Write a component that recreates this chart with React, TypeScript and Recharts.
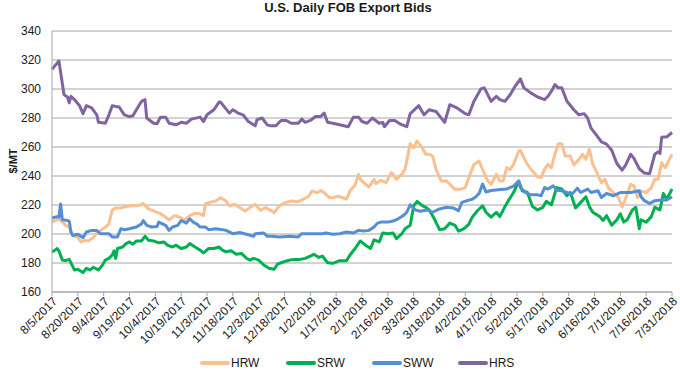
import { CartesianGrid, Line, LineChart, XAxis, YAxis } from 'recharts';

const FONT = '"Liberation Sans", Arial, sans-serif';
const GRID = '#a6a6a6';
const TEXT = '#1a1a1a';

const START = Date.UTC(2017, 7, 5);
const DAY = 86400000;

const TICK_LABELS = [
  '8/5/2017', '8/20/2017', '9/4/2017', '9/19/2017', '10/4/2017', '10/19/2017', '11/3/2017',
  '11/18/2017', '12/3/2017', '12/18/2017', '1/2/2018', '1/17/2018', '2/1/2018', '2/16/2018',
  '3/3/2018', '3/18/2018', '4/2/2018', '4/17/2018', '5/2/2018', '5/17/2018', '6/1/2018',
  '6/16/2018', '7/1/2018', '7/16/2018', '7/31/2018',
];
const Y_TICKS = [160, 180, 200, 220, 240, 260, 280, 300, 320, 340];

// [days since 8/5/2017, $/MT]
const HRW: [number, number][] = [
  [0, 208.2], [4, 210.5], [6, 208.2], [8, 206], [10, 204.8], [12, 199], [15, 197.5], [17, 194.5],
  [19, 195.7], [21, 195.2], [24, 197.5], [26, 200.7], [29, 203], [31, 204.8], [33, 207], [35, 216.6],
  [37, 218], [40, 218], [43, 219], [46, 219.5], [50, 219.5], [53, 221], [56, 217.3], [59, 216],
  [63, 214], [66, 211.6], [68, 209.8], [71, 212.7], [74, 211.6], [77, 209.8], [80, 212.7], [83, 214.3],
  [86, 214], [88, 212.7], [89, 220.7], [92, 222], [95, 222.8], [98, 225], [101, 222.8], [103, 219.3],
  [106, 220.5], [109, 218.2], [112, 215.9], [115, 218.2], [118, 220.5], [121, 216.3], [124, 218.2],
  [127, 216.3], [129, 214.7], [132, 219.3], [135, 221.6], [139, 222.8], [143, 222.3], [146, 224],
  [149, 226], [151, 229.7], [154, 228.5], [156, 230], [158, 228.5], [161, 225], [163, 225], [166, 226],
  [169, 225], [171, 224], [173, 229.7], [176, 233.8], [178, 241.1], [179, 237.7], [181, 235.4],
  [184, 232.4], [187, 237.7], [188, 234.7], [191, 237], [194, 235.4], [197, 242.3], [198, 241.1],
  [200, 237.7], [203, 241.1], [205, 244.6], [208, 262.3], [210, 259.5], [212, 264.1], [215, 259.5],
  [217, 255], [219, 255], [221, 253.8], [223, 244.6], [226, 236.6], [229, 236.6], [231, 234.3],
  [234, 230.8], [237, 230.8], [240, 232], [242, 238.9], [245, 248], [248, 250.3], [250, 244.6],
  [253, 236.6], [255, 234.3], [258, 241.1], [260, 236.6], [262, 236.6], [264, 245.7], [266, 244.6],
  [268, 248], [271, 257.2], [272, 257.7], [274, 252.6], [276, 248], [279, 243.4], [282, 239.3],
  [284, 238.9], [286, 244.6], [288, 248], [290, 245.7], [292, 255], [294, 262.3], [296, 262.3],
  [298, 253.8], [301, 253.8], [303, 247.6], [306, 251.5], [308, 255], [310, 251.5], [312, 258.4],
  [314, 248], [316, 243.4], [319, 235.4], [321, 237.7], [323, 232], [326, 228.5], [329, 225],
  [331, 218.6], [334, 227.4], [336, 234.3], [338, 233], [340, 225], [342, 229.7], [345, 228.5],
  [348, 232], [350, 237.7], [352, 237.7], [354, 249.2], [356, 245.7], [358, 250.3], [360, 255],
];

const SRW: [number, number][] = [
  [0, 187.7], [2, 189], [3, 190], [4, 188.4], [6, 182], [8, 181.6], [10, 182.5], [13, 175.2],
  [15, 175.7], [18, 173.4], [20, 176.4], [22, 175.2], [24, 177], [27, 175.2], [29, 178], [31, 182],
  [33, 183.2], [35, 185.5], [36, 188.4], [37, 183.2], [38, 190], [41, 191], [43, 193.4], [45, 194.5],
  [47, 193], [49, 195.2], [52, 195.2], [54, 198.4], [56, 195.7], [59, 195.2], [62, 193.9], [65, 194.5],
  [67, 192.3], [70, 191], [72, 192.3], [75, 190], [78, 191], [80, 193.4], [83, 191], [86, 188.9],
  [88, 187], [91, 190], [94, 190], [97, 191], [99, 188.9], [101, 187.7], [104, 188.4], [107, 186],
  [110, 186.6], [113, 183.2], [115, 182], [117, 183.2], [120, 182], [123, 178.6], [126, 176.4],
  [129, 175.7], [131, 179.3], [135, 181], [138, 182], [141, 182.5], [144, 182.5], [147, 183.2],
  [150, 184.8], [152, 186], [155, 183.8], [157, 184.8], [160, 180.2], [163, 179.8], [167, 181.6],
  [171, 181.6], [173, 185.5], [176, 190], [179, 195.2], [182, 192.3], [185, 190], [187, 196],
  [190, 194.5], [192, 200.7], [195, 200.2], [198, 200.7], [200, 196.8], [203, 200], [205, 203.6],
  [208, 206], [210, 219.5], [212, 222.5], [215, 219.5], [217, 218.4], [219, 216.6], [222, 210.5],
  [225, 203], [228, 203.6], [231, 207.5], [234, 206], [236, 202], [239, 203.6], [242, 206.6],
  [244, 211.6], [247, 216], [250, 219.5], [252, 215], [255, 211.6], [258, 215], [260, 212],
  [263, 218.9], [265, 223], [268, 228.6], [271, 236.5], [273, 229.8], [276, 228.6], [279, 218.9],
  [282, 216.6], [285, 218.4], [287, 222.5], [290, 220.2], [293, 232], [296, 231], [299, 226.4],
  [301, 228.6], [304, 218], [307, 221.8], [310, 225.7], [312, 218.9], [314, 215], [318, 212],
  [320, 209.3], [322, 212.7], [325, 206], [328, 209.8], [330, 213.9], [332, 208.2], [334, 209.8],
  [337, 216.6], [339, 218.4], [341, 203.6], [342, 209.8], [345, 208.2], [348, 212], [350, 218.4],
  [353, 216.6], [355, 228], [357, 224], [360, 231],
];

const SWW: [number, number][] = [
  [0, 211], [3, 212], [4, 211.6], [5, 220.7], [6, 209.8], [9, 209.3], [10, 208.9], [11, 201.4],
  [12, 199], [15, 199.8], [18, 197.5], [20, 201.4], [23, 202.5], [26, 202.5], [28, 200.2], [33, 200.2],
  [35, 198], [38, 198], [40, 203.6], [42, 203], [45, 203.6], [49, 204.8], [52, 207], [53, 209.3],
  [55, 206], [58, 204.8], [61, 205.2], [62, 208.2], [66, 206], [68, 202.5], [70, 204.8], [73, 206],
  [75, 209.3], [78, 207.5], [80, 210.5], [82, 208.2], [84, 207], [86, 204.8], [89, 204.8], [91, 203],
  [95, 203.6], [99, 203], [101, 202.5], [105, 200.2], [109, 201], [114, 199.5], [117, 198.4],
  [118, 200.2], [123, 200.7], [125, 198.4], [128, 198.4], [132, 198], [138, 198.4], [143, 198],
  [145, 200.2], [151, 200.2], [157, 200.2], [159, 200.7], [163, 199.8], [167, 200.2], [171, 201.4],
  [175, 200.7], [178, 202.5], [181, 202], [184, 202.5], [187, 204.8], [189, 207.5], [191, 208.2],
  [195, 208.2], [198, 208.9], [201, 210.5], [204, 212.7], [206, 215], [208, 220.2], [211, 216.6],
  [214, 215.7], [218, 216.6], [221, 215], [225, 217.3], [229, 218.4], [233, 218], [236, 216],
  [238, 221.8], [241, 223], [244, 224], [246, 225.5], [248, 228], [250, 234.5], [252, 229],
  [255, 230], [259, 230.5], [264, 231], [268, 233], [271, 236.5], [272, 232], [275, 228.6],
  [278, 227], [282, 227], [284, 226.4], [286, 232], [288, 231], [291, 233.2], [293, 230.2],
  [296, 229.8], [299, 228.6], [302, 227.5], [305, 231.6], [307, 228.6], [311, 231], [313, 228.6],
  [317, 229.8], [319, 225.2], [322, 228], [326, 226.4], [330, 228.6], [336, 228.6], [341, 229.8],
  [342, 225.7], [344, 223], [347, 221], [350, 223], [354, 223.4], [357, 223.4], [360, 225.7],
];

const HRS: [number, number][] = [
  [0, 313.5], [4, 319.4], [7, 296], [9, 294.5], [10, 290.4], [11, 295], [13, 292.7], [16, 288.5],
  [18, 283], [20, 288.5], [23, 287], [26, 282.2], [27, 277], [31, 276.4], [33, 282], [35, 288.5],
  [37, 288], [39, 287.6], [42, 282.2], [45, 281], [47, 281.5], [49, 285.7], [52, 291.5], [54, 292.7],
  [55, 280], [59, 276.4], [61, 276], [63, 280.6], [66, 280.6], [68, 276.4], [72, 275.3], [75, 277],
  [78, 276.4], [81, 279.2], [86, 280.6], [88, 277.6], [90, 282.2], [94, 285.7], [97, 291], [98, 290.8],
  [103, 283.4], [105, 285.7], [108, 283.4], [111, 282.2], [114, 277.6], [118, 274.6], [119, 278.8],
  [122, 280], [125, 275.3], [127, 274.6], [130, 274.6], [133, 278.3], [136, 278.3], [139, 276.4],
  [143, 276.4], [145, 279.2], [147, 277], [150, 278.3], [153, 281], [156, 281], [158, 283.4],
  [160, 277], [163, 276.4], [167, 275.3], [172, 274], [175, 280.6], [178, 280.6], [180, 277.6],
  [183, 276.4], [186, 280], [190, 276.4], [192, 277], [193, 274], [196, 278.3], [199, 278.3],
  [202, 276], [206, 274], [208, 283], [213, 288.5], [216, 282.2], [219, 285.7], [223, 284.5],
  [225, 281.5], [228, 277], [231, 289.2], [235, 287], [240, 283], [242, 282.2], [245, 291.5],
  [249, 300], [251, 300.8], [255, 291.5], [258, 295], [260, 292.7], [263, 291.5], [266, 296],
  [269, 302], [272, 307], [274, 300.8], [278, 297.3], [282, 294.5], [286, 292.7], [288, 295],
  [290, 298.5], [292, 303], [294, 300.8], [296, 300.8], [299, 291.5], [303, 285.7], [306, 282.2],
  [309, 283], [311, 280], [313, 273], [316, 268.3], [319, 263.6], [322, 262], [325, 257.8],
  [328, 248.6], [331, 244], [333, 247.4], [336, 255], [338, 252], [341, 245], [344, 242],
  [347, 241.6], [350, 255], [352, 256.7], [353, 255.5], [354, 266.7], [357, 267], [360, 270],
];

const SERIES = [
  { name: 'HRW', color: '#FAC090', points: HRW },
  { name: 'SRW', color: '#00B050', points: SRW },
  { name: 'SWW', color: '#558ED5', points: SWW },
  { name: 'HRS', color: '#8064A2', points: HRS },
];

const toDay = (label: string) => {
  const [m, d, y] = label.split('/').map(Number);
  return Math.round((Date.UTC(y, m - 1, d) - START) / DAY);
};
const X_TICKS = TICK_LABELS.map(toDay);
const labelByDay = new Map(X_TICKS.map((t, i) => [t, TICK_LABELS[i]]));

export default function App() {
  return (
    <div
      style={{
        position: 'absolute', left: 0, top: 0, width: 680, height: 375,
        background: '#fff', fontFamily: FONT, color: TEXT,
      }}
    >
      <div
        style={{
          position: 'absolute', left: 348, top: 0, transform: 'translateX(-50%)',
          whiteSpace: 'nowrap', fontSize: 13, fontWeight: 'bold', lineHeight: '16px',
        }}
      >
        U.S. Daily FOB Export Bids
      </div>
      <div
        style={{
          position: 'absolute', left: 13, top: 161, transform: 'translate(-50%, -50%) rotate(-90deg)',
          whiteSpace: 'nowrap', fontSize: 11, fontWeight: 'bold',
        }}
      >
        $/MT
      </div>

      <LineChart width={680} height={375} margin={{ top: 31, right: 8, bottom: 0, left: 0 }}>
        <CartesianGrid horizontal vertical={false} stroke={GRID} />
        <XAxis
          type="number"
          dataKey="day"
          domain={[0, 360]}
          ticks={X_TICKS}
          interval={0}
          tickFormatter={(d: number) => labelByDay.get(d) ?? ''}
          angle={-45}
          textAnchor="end"
          height={83}
          tickSize={4}
          tickMargin={0}
          tick={{ fontSize: 12, fill: TEXT, fontFamily: FONT }}
          tickLine={{ stroke: GRID }}
          axisLine={{ stroke: GRID }}
          allowDuplicatedCategory={false}
        />
        <YAxis
          type="number"
          domain={[160, 340]}
          ticks={Y_TICKS}
          interval={0}
          width={52}
          tickLine={false}
          tickSize={6}
          tickMargin={5}
          tick={{ fontSize: 12, fill: TEXT, fontFamily: FONT }}
          axisLine={{ stroke: GRID }}
        />
        {SERIES.map((s) => (
          <Line
            key={s.name}
            data={s.points.map(([day, v]) => ({ day, v }))}
            dataKey="v"
            name={s.name}
            type="linear"
            stroke={s.color}
            strokeWidth={3}
            strokeLinejoin="round"
            dot={false}
            activeDot={false}
            isAnimationActive={false}
          />
        ))}
      </LineChart>

      <div style={{ position: 'absolute', left: 200, top: 355, display: 'flex' }}>
        {SERIES.map((s) => (
          <div key={s.name} style={{ width: 86, display: 'flex', alignItems: 'center', fontSize: 12, lineHeight: '16px' }}>
            <svg width={30} height={6} style={{ display: 'block' }}>
              <line x1={2} y1={3} x2={28} y2={3} stroke={s.color} strokeWidth={4} strokeLinecap="round" />
            </svg>
            <span style={{ marginLeft: 1 }}>{s.name}</span>
          </div>
        ))}
      </div>
    </div>
  );
}
